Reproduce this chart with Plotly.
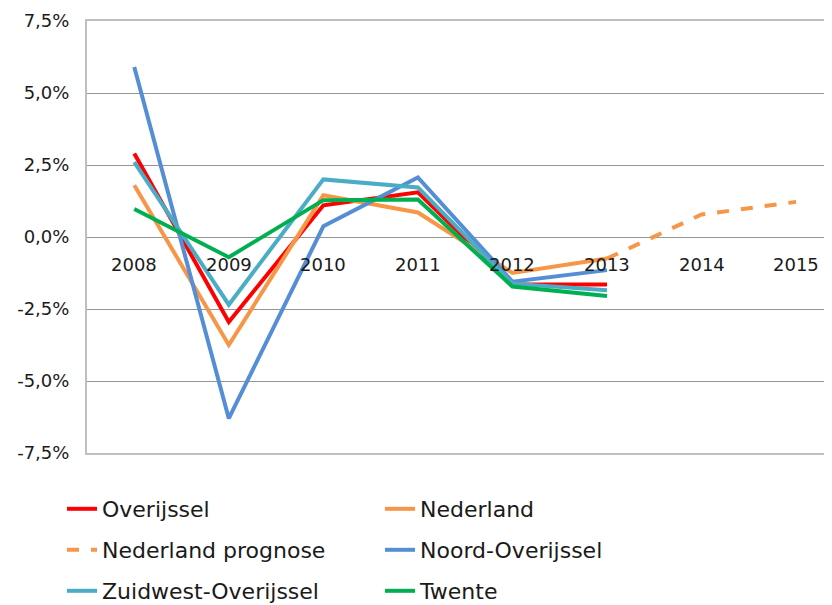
import plotly.graph_objects as go

years = ["2008", "2009", "2010", "2011", "2012", "2013", "2014", "2015"]
hist_years = years[:6]
prog_years = ["2013", "2014", "2015"]

overijssel = [2.9, -2.95, 1.1, 1.55, -1.65, -1.65]
nederland = [1.8, -3.75, 1.45, 0.85, -1.25, -0.75]
nederland_prognose = [-0.75, 0.78, 1.22]
noord_overijssel = [5.9, -6.3, 0.37, 2.07, -1.55, -1.15]
zuidwest_overijssel = [2.6, -2.35, 2.0, 1.72, -1.62, -1.85]
twente = [0.97, -0.7, 1.28, 1.3, -1.72, -2.05]

ytick_vals = [-7.5, -5.0, -2.5, 0.0, 2.5, 5.0, 7.5]
ytick_text = ["-7,5%", "-5,0%", "-2,5%", "0,0%", "2,5%", "5,0%", "7,5%"]

font = "DejaVu Sans, Verdana, sans-serif"
W, H = 824, 597  # page body adds an 8px offset

fig = go.Figure()
fig.add_trace(go.Scatter(x=hist_years, y=overijssel, name="Overijssel", mode="lines",
                         line=dict(color="#FF0000", width=4), legend="legend"))
fig.add_trace(go.Scatter(x=hist_years, y=nederland, name="Nederland", mode="lines",
                         line=dict(color="#F79646", width=4), legend="legend"))
fig.add_trace(go.Scatter(x=prog_years, y=nederland_prognose, name="Nederland prognose", mode="lines",
                         line=dict(color="#F79646", width=4, dash="dash"), legend="legend2"))
fig.add_trace(go.Scatter(x=hist_years, y=noord_overijssel, name="Noord-Overijssel", mode="lines",
                         line=dict(color="#558ED5", width=4), legend="legend2"))
fig.add_trace(go.Scatter(x=hist_years, y=zuidwest_overijssel, name="Zuidwest-Overijssel", mode="lines",
                         line=dict(color="#4BACC6", width=4), legend="legend3"))
fig.add_trace(go.Scatter(x=hist_years, y=twente, name="Twente", mode="lines",
                         line=dict(color="#00B050", width=4), legend="legend3"))

# year labels sit just under the zero line, like the Excel original
for i, yr in enumerate(years):
    fig.add_annotation(x=i, y=0, xref="x", yref="y", text=yr, showarrow=False,
                       yanchor="middle", yshift=-27,
                       font=dict(family=font, size=18, color="#1a1a1a"))

def row_legend(py):
    return dict(orientation="h", xref="container", yref="container",
                x=54 / W, xanchor="left", y=1 - py / H, yanchor="middle",
                entrywidth=273, entrywidthmode="pixels", bgcolor="rgba(0,0,0,0)",
                font=dict(family=font, size=22, color="#1a1a1a"))

fig.update_layout(
    width=W, height=H,
    margin=dict(l=79, r=0, t=13, b=152, autoexpand=False),
    plot_bgcolor="white", paper_bgcolor="white",
    font=dict(family=font, color="#1a1a1a"),
    showlegend=True,
    legend=row_legend(501),
    legend2=row_legend(542),
    legend3=row_legend(583),
    xaxis=dict(type="category", categoryorder="array", categoryarray=years,
               range=[-0.5, 7.38], showticklabels=False, showgrid=False,
               showline=True, mirror=True, linecolor="#BFBFBF", linewidth=2, zeroline=False),
    yaxis=dict(range=[-7.5, 7.5], tickvals=ytick_vals, ticktext=ytick_text, automargin=False,
               showgrid=True, gridcolor="#959595", gridwidth=1, zeroline=False,
               showline=True, linecolor="#BFBFBF", linewidth=2,
               tickfont=dict(family=font, size=18, color="#1a1a1a"), ticklabelstandoff=12),
)

fig.write_html("out.html")
